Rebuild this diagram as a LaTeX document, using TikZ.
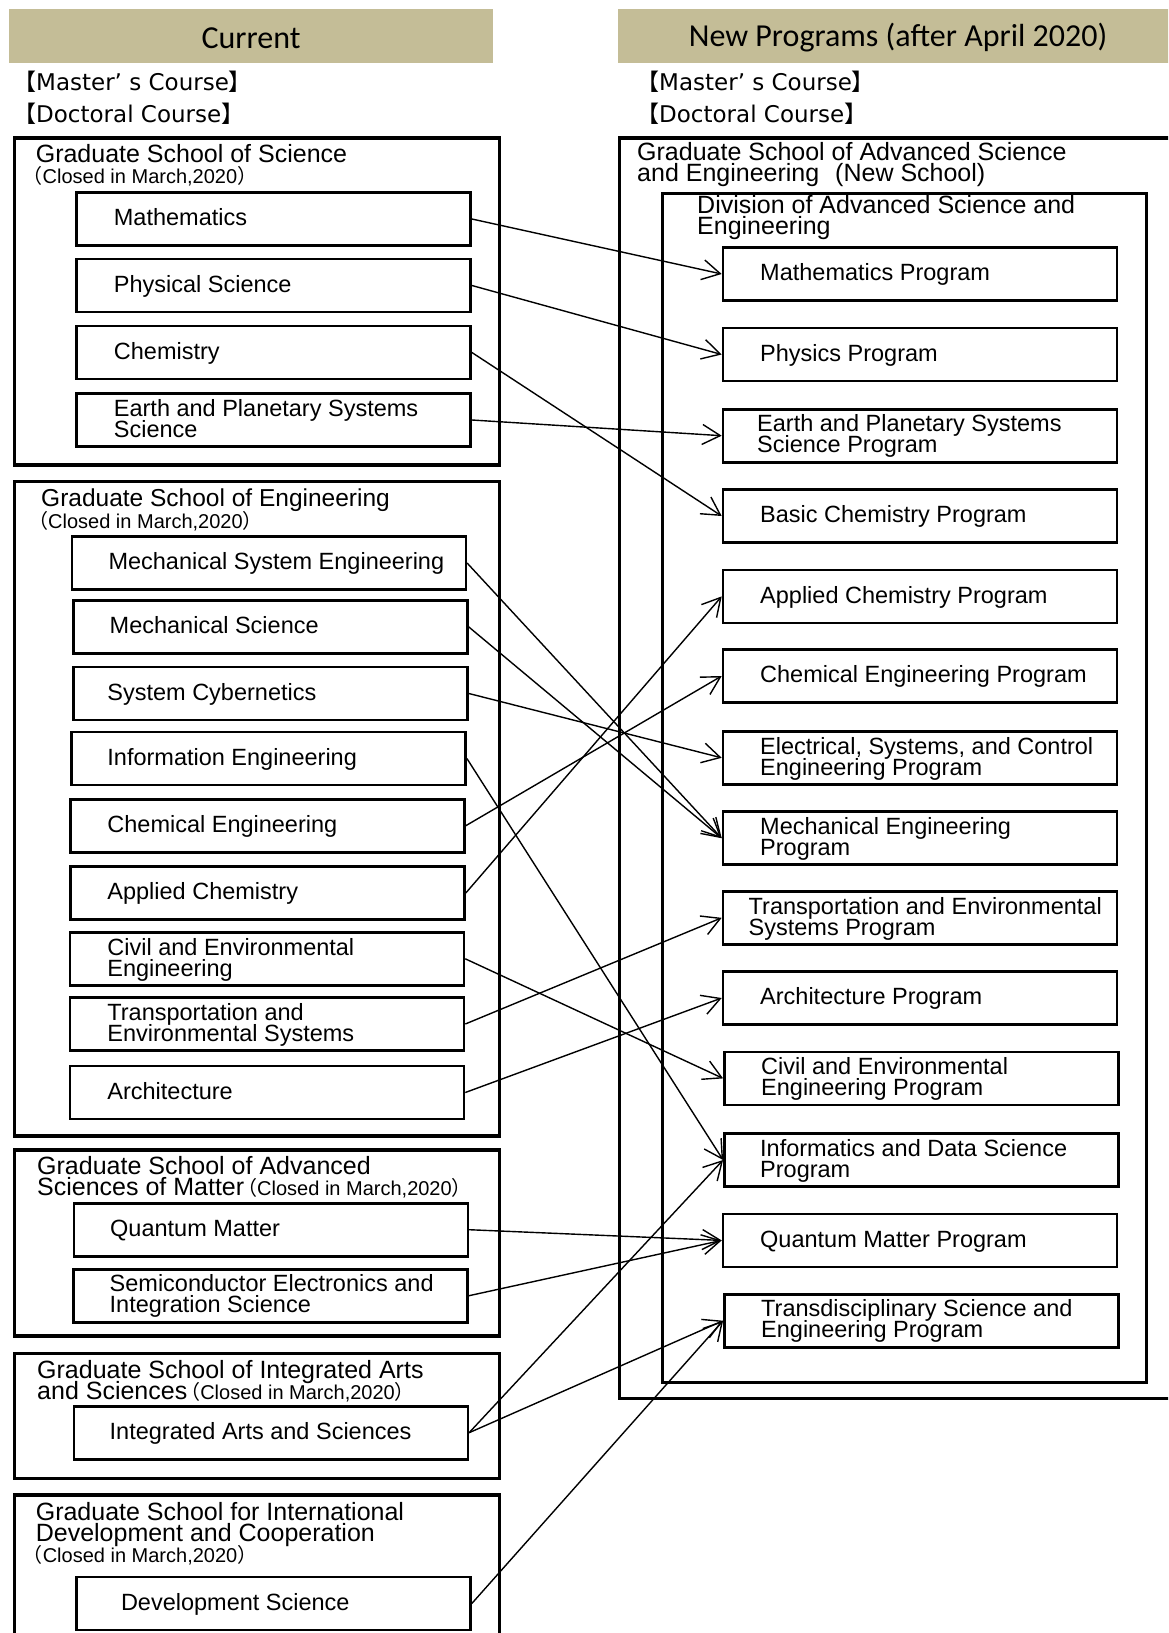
\documentclass[tikz,border=0pt]{standalone}
\usepackage{fontspec}
\setmainfont{Liberation Sans}
\newfontfamily\hdfont{Carlito}
\newfontfamily\dvfont{DejaVu Sans}
\newfontfamily\cjkfont{Noto Sans CJK JP}
\usetikzlibrary{arrows.meta}
\definecolor{hdtan}{HTML}{C4BD97}
\newcommand\twoln[2]{\vtop{\baselineskip=21pt\lineskiplimit=-100pt\hbox{#1}\hbox{#2}}}
\newcommand\threeln[3]{\vtop{\baselineskip=21pt\lineskiplimit=-100pt\hbox{#1}\hbox{#2}\hbox{#3}}}
\newcommand\clsd{{\fontsize{20}{21}\selectfont{\cjkfont （}Closed in March,2020{\cjkfont ）}}}
\tikzset{
  grp/.style={draw, line width=3.6pt, inner sep=0pt, anchor=north west},
  divbox/.style={draw, line width=3pt, inner sep=0pt, anchor=north west},
  bx/.style={draw, line width=2.6pt, fill=white, minimum width=394pt, minimum height=53pt, inner sep=0pt},
  itxt/.style={anchor=base west, inner sep=0pt, font=\fontsize{23.5}{21}\selectfont},
  ttl/.style={anchor=base west, inner sep=0pt, font=\fontsize{25}{21}\selectfont},
  cls/.style={anchor=base west, inner sep=0pt, font=\fontsize{20}{21}\selectfont},
  crs/.style={anchor=base west, inner sep=0pt, font=\dvfont\fontsize{23}{26}\selectfont},
  hdr/.style={fill=hdtan, draw=none, inner sep=0pt, anchor=north west, minimum height=54pt},
  hdtxt/.style={anchor=base, inner sep=0pt, font=\hdfont\fontsize{32}{36}\selectfont},
  con/.style={line width=1.4pt, -{Straight Barb[length=18pt,width=20pt,line width=1.4pt]}},
}
\begin{document}
\begin{tikzpicture}[x=1pt,y=-1pt]
\useasboundingbox (0,0) rectangle (1168,1633);
\clip (0,0) rectangle (1168,1633);
\fill[white] (0,0) rectangle (1168,1633);

% headers
\node[hdr, minimum width=484pt] (hcur) at (9,9) {};
\node[hdtxt] (hcurt) at (251,48.3) {Current};
\node[hdr, minimum width=570pt] (hnew) at (617.5,9) {};
\node[hdtxt] (hnewt) at (898,46.7) {New Programs (after April 2020)};

\node[crs] (lm) at (13,90.7) {{\cjkfont 【}Master’ s Course{\cjkfont 】}};
\node[crs] (ld) at (13,122.7) {{\cjkfont 【}Doctoral Course{\cjkfont 】}};
\node[crs] (rm) at (636,90.7) {{\cjkfont 【}Master’ s Course{\cjkfont 】}};
\node[crs] (rd) at (636,122.7) {{\cjkfont 【}Doctoral Course{\cjkfont 】}};

% ---------- left groups ----------
\node[grp, minimum width=485pt, minimum height=327pt] (gsci) at (12.6,136) {};
\node[ttl] (gscit) at (35.6,162.3) {Graduate School of Science};
\node[cls] (gscic) at (22.5,183) {\clsd};
\node[bx] (mat) at (273.6,219) {};
\node[bx] (phy) at (273.6,285.5) {};
\node[bx] (chem) at (273.6,352.5) {};
\node[bx] (earth) at (273.6,420) {};
\node[itxt] at (113.7,225.5) (matt) {Mathematics};
\node[itxt] at (113.7,292) (phyt) {Physical Science};
\node[itxt] at (113.7,359) (chemt) {Chemistry};
\node[itxt] at (113.7,416) (eartht) {\twoln{Earth and Planetary Systems}{Science}};

\node[grp, minimum width=485pt, minimum height=654.5pt] (geng) at (12.6,479.5) {};
\node[ttl, font=\fontsize{24.5}{21}\selectfont] (gengt) at (41,506.8) {Graduate School of Engineering};
\node[cls] (gengc) at (28,528.5) {\clsd};
\node[bx] (mse) at (268.8,563) {};
\node[bx] (ms) at (270.2,626.7) {};
\node[bx] (sc) at (270.2,693.4) {};
\node[bx] (ie) at (268.6,758.5) {};
\node[bx] (ce) at (267.5,825.7) {};
\node[bx] (ac) at (267.5,893) {};
\node[bx] (cv) at (267,958.8) {};
\node[bx] (tr) at (267,1024) {};
\node[bx] (ar) at (267,1092.5) {};
\node[itxt] at (108.3,569.5) (mset) {Mechanical System Engineering};
\node[itxt] at (109.5,633) (mst) {Mechanical Science};
\node[itxt] at (107.2,700) (sct) {System Cybernetics};
\node[itxt] at (107.2,765) (iet) {Information Engineering};
\node[itxt] at (107.2,832) (cet) {Chemical Engineering};
\node[itxt] at (107.2,899.5) (act) {Applied Chemistry};
\node[itxt] at (107.2,955) (cvt) {\twoln{Civil and Environmental}{Engineering}};
\node[itxt] at (107.2,1020) (trt) {\twoln{Transportation and}{Environmental Systems}};
\node[itxt] at (107.2,1099) (art) {Architecture};

\node[grp, minimum width=485pt, minimum height=185.7pt] (gasm) at (12.6,1148.3) {};
\node[ttl] (gasmt) at (37,1174.3) {\twoln{Graduate School of Advanced}{Sciences of Matter\hspace{-7pt}\clsd}};
\node[bx] (qm) at (270.8,1229.7) {};
\node[bx] (se) at (270.2,1295.8) {};
\node[itxt] at (110,1236) (qmt) {Quantum Matter};
\node[itxt] at (109.5,1291) (set) {\twoln{Semiconductor Electronics and}{Integration Science}};

\node[grp, minimum width=485pt, minimum height=125pt] (gias) at (12.6,1351.7) {};
\node[ttl] (giast) at (37,1378.3) {\twoln{Graduate School of Integrated Arts}{and Sciences\hspace{-7pt}\clsd}};
\node[bx] (ia) at (270.8,1432.7) {};
\node[itxt] at (109.5,1439) (iat) {Integrated Arts and Sciences};

\node[grp, minimum width=485pt, minimum height=170pt] (gidc) at (12.6,1493.3) {};
\node[ttl] (gidct) at (35.6,1520) {\threeln{Graduate School for International}{Development and Cooperation}{\hspace{-13pt}\clsd}};
\node[bx] (ds) at (273.6,1603.4) {};
\node[itxt] at (120.8,1610) (dst) {Development Science};

% ---------- right group ----------
\node[grp, minimum width=570pt, minimum height=1260.7pt] (gase) at (617.5,136) {};
\node[ttl] (gaset) at (637,160) {\twoln{Graduate School of Advanced Science}{and Engineering\hspace{16pt}(New School)}};
\node[divbox, minimum width=484.4pt, minimum height=1188.7pt] (dase) at (660.6,192) {};
\node[ttl] (daset) at (697,213) {\twoln{Division of Advanced Science and}{Engineering}};

\node[bx] (mp) at (920,274) {};
\node[bx] (pp) at (920,354.5) {};
\node[bx] (ep) at (920,435.7) {};
\node[bx] (bc) at (920,516) {};
\node[bx] (acp) at (920,596.4) {};
\node[bx] (cep) at (920,676) {};
\node[bx] (esc) at (920,757.8) {};
\node[bx] (mep) at (920,838.2) {};
\node[bx] (tep) at (920,917.8) {};
\node[bx] (arp) at (920,998) {};
\node[bx] (cvp) at (921.4,1078.4) {};
\node[bx] (idp) at (921.4,1160) {};
\node[bx] (qmp) at (920,1240.4) {};
\node[bx] (tsp) at (921.4,1320.7) {};

\node[itxt] at (760,280.5) (mpt) {Mathematics Program};
\node[itxt] at (760,361) (ppt) {Physics Program};
\node[itxt] at (757,431.7) (ept) {\twoln{Earth and Planetary Systems}{Science Program}};
\node[itxt] at (760,522.5) (bct) {Basic Chemistry Program};
\node[itxt] at (760,603) (acpt) {Applied Chemistry Program};
\node[itxt] at (760,682.5) (cept) {Chemical Engineering Program};
\node[itxt] at (760,754.5) (esct) {\twoln{Electrical, Systems, and Control}{Engineering Program}};
\node[itxt] at (760,834) (mept) {\twoln{Mechanical Engineering}{Program}};
\node[itxt] at (748.5,914) (tept) {\twoln{Transportation and Environmental}{Systems Program}};
\node[itxt] at (760,1004.5) (arpt) {Architecture Program};
\node[itxt] at (761,1074.4) (cvpt) {\twoln{Civil and Environmental}{Engineering Program}};
\node[itxt] at (760,1156) (idpt) {\twoln{Informatics and Data Science}{Program}};
\node[itxt] at (760,1247) (qmpt) {Quantum Matter Program};
\node[itxt] at (761,1316.7) (tspt) {\twoln{Transdisciplinary Science and}{Engineering Program}};

% ---------- connectors ----------
\draw[con] (mat.east) -- (mp.west);
\draw[con] (phy.east) -- (pp.west);
\draw[con] (chem.east) -- (bc.west);
\draw[con] (earth.east) -- (ep.west);
\draw[con] (mse.east) -- (mep.west);
\draw[con] (ms.east) -- (mep.west);
\draw[con] (sc.east) -- (esc.west);
\draw[con] (ie.east) -- (idp.west);
\draw[con] (ce.east) -- (cep.west);
\draw[con] (ac.east) -- (acp.west);
\draw[con] (cv.east) -- (cvp.west);
\draw[con] (tr.east) -- (tep.west);
\draw[con] (ar.east) -- (arp.west);
\draw[con] (qm.east) -- (qmp.west);
\draw[con] (se.east) -- (qmp.west);
\draw[con] (ia.east) -- (idp.west);
\draw[con] (ia.east) -- (tsp.west);
\draw[con] (ds.east) -- (tsp.west);
\end{tikzpicture}
\end{document}
